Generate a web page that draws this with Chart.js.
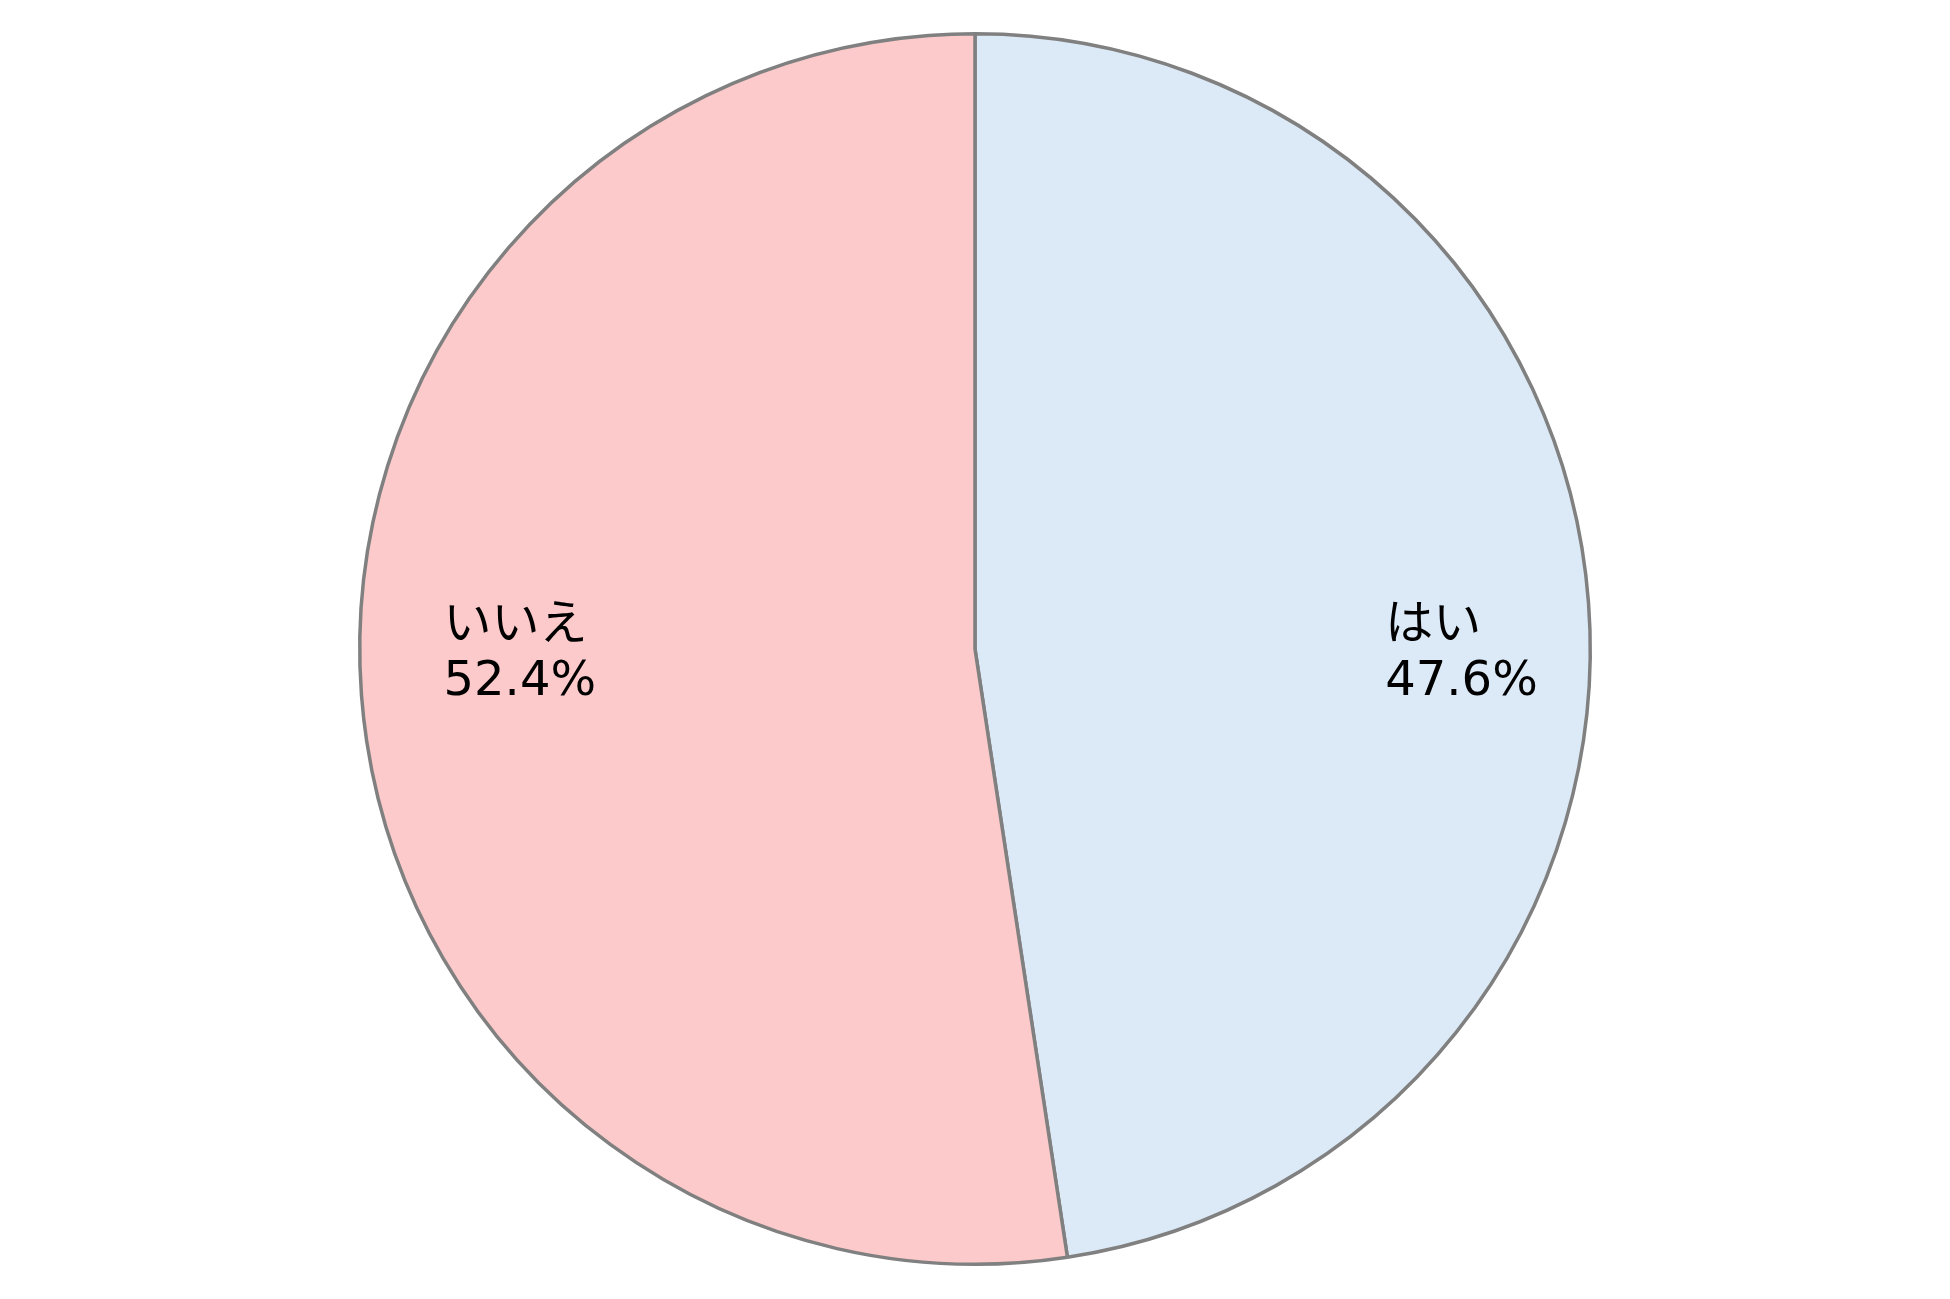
<!DOCTYPE html>
<html>
<head>
<meta charset="utf-8">
<script src="https://cdn.jsdelivr.net/npm/chart.js@4"></script>
<style>
  html, body { margin: 0; padding: 0; background: #fff; }
  #wrap { width: 1950px; height: 1299px; }
</style>
</head>
<body>
<div id="wrap"><canvas id="myChart"></canvas></div>
<script>
const labels = ["はい", "いいえ"];
const values = [47.6, 52.4];
const colors = ["#dceaf7", "#fccaca"];
// how far along the slice's middle direction the text block sits (share of radius)
const labelReach = [0.793, 0.742];

const sliceLabels = {
  id: "sliceLabels",
  afterDatasetsDraw(chart) {
    const ctx = chart.ctx;
    const meta = chart.getDatasetMeta(0);
    ctx.save();
    ctx.font = "48px 'DejaVu Sans', 'Noto Sans CJK JP', sans-serif";
    ctx.fillStyle = "#000";
    ctx.textAlign = "left";
    ctx.textBaseline = "alphabetic";
    meta.data.forEach((arc, i) => {
      const p = arc.getProps(["x", "y", "startAngle", "endAngle", "outerRadius"], true);
      const mid = (p.startAngle + p.endAngle) / 2;
      const cx = p.x + Math.cos(mid) * p.outerRadius * labelReach[i];
      const line1 = labels[i];
      const line2 = values[i].toFixed(1) + "%";
      const w = Math.max(ctx.measureText(line1).width, ctx.measureText(line2).width);
      const left = cx - w / 2;
      ctx.fillText(line1, left, p.y - 10);
      ctx.fillText(line2, left, p.y + 46);
    });
    ctx.restore();
  }
};

const ctx = document.getElementById("myChart");
new Chart(ctx, {
  type: "pie",
  data: {
    labels: labels,
    datasets: [{
      data: values,
      backgroundColor: colors,
      borderColor: "#808080",
      borderWidth: 3.5,
      borderAlign: "center"
    }]
  },
  options: {
    responsive: true,
    maintainAspectRatio: false,
    animation: false,
    layout: { padding: { top: 32, bottom: 33 } },
    plugins: {
      legend: { display: false },
      tooltip: { enabled: false }
    }
  },
  plugins: [sliceLabels]
});
</script>
</body>
</html>
